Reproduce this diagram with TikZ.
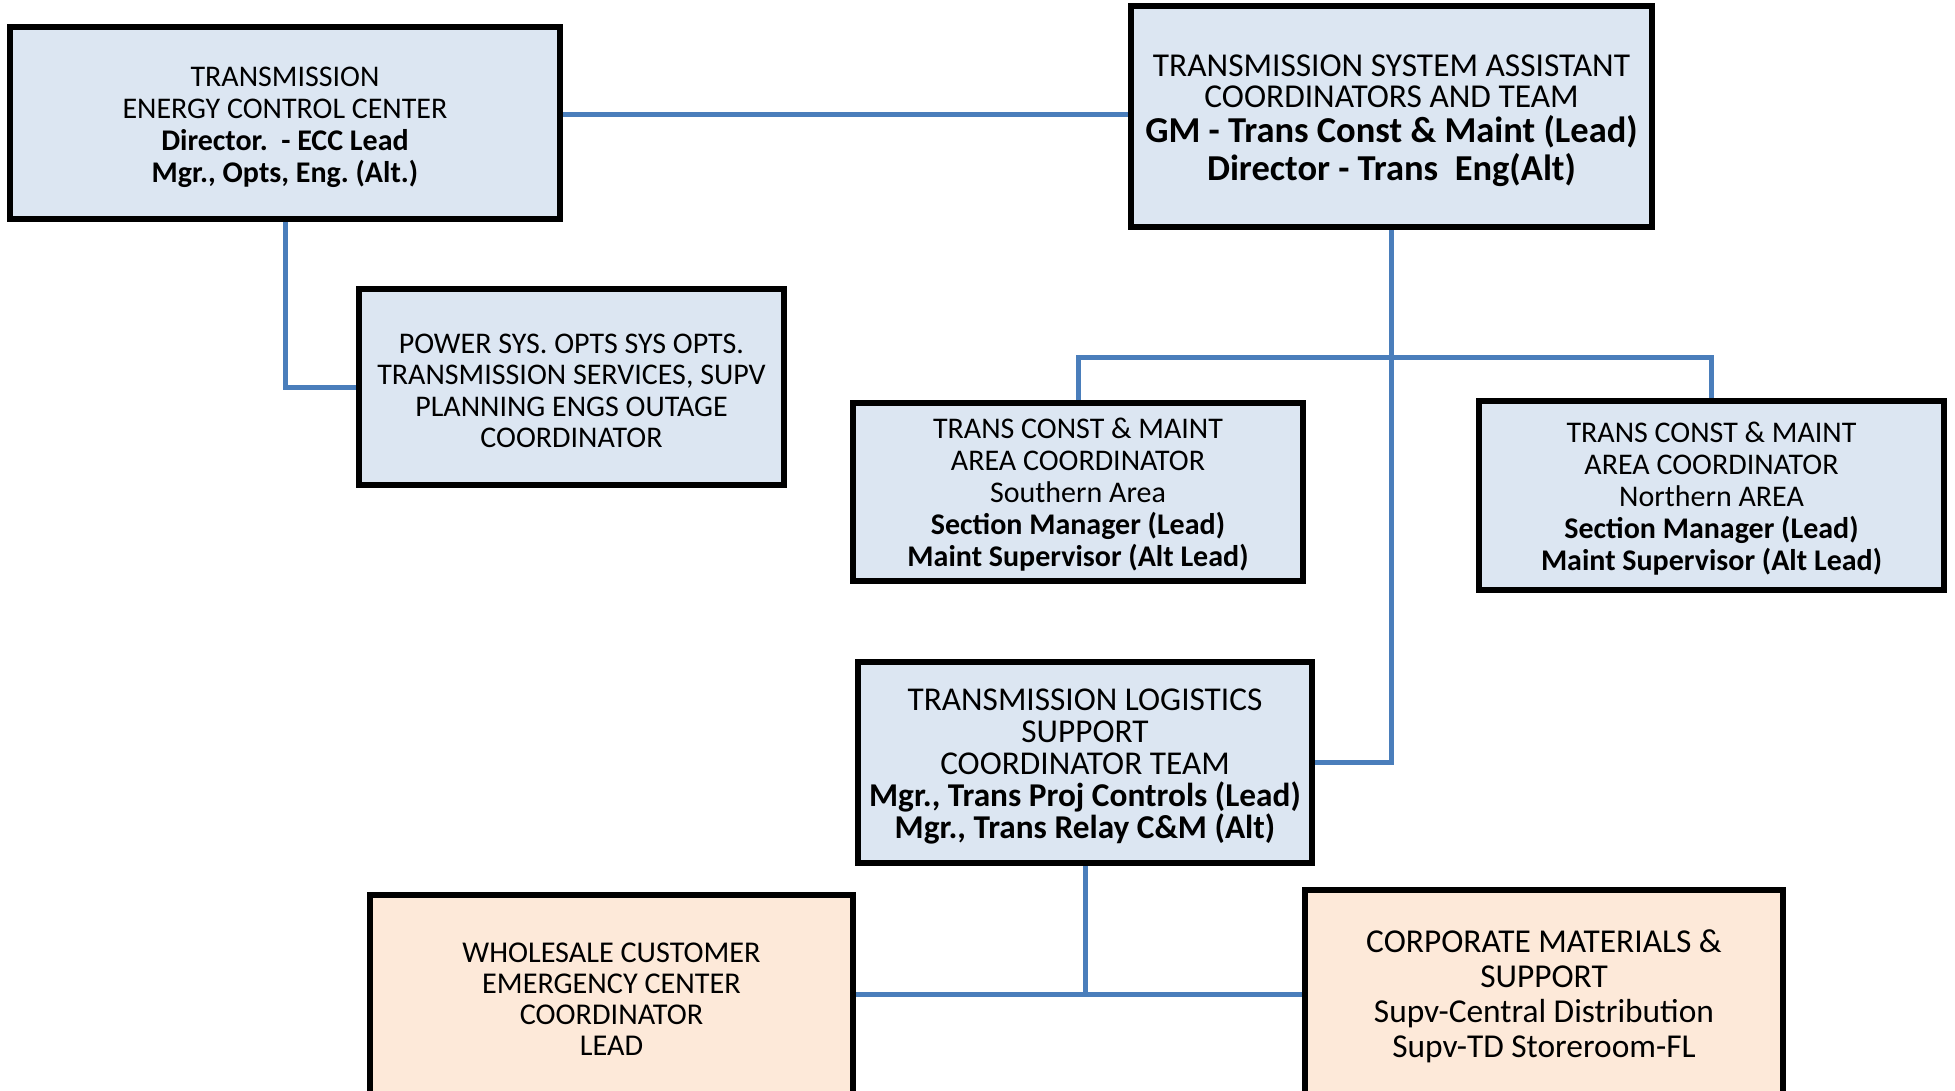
\documentclass[tikz,border=0pt]{standalone}
\usepackage{fontspec}
\setmainfont{Carlito}
\frenchspacing
\usetikzlibrary{backgrounds}
\definecolor{boxblue}{HTML}{DCE6F2}
\definecolor{boxpeach}{HTML}{FDE9D9}
\definecolor{linkblue}{HTML}{4A7EBB}
\begin{document}
\begin{tikzpicture}[x=1pt,y=-1pt,
  unit/.style={draw=black, line width=6pt, rectangle, inner sep=0pt, outer sep=0pt},
  bluebox/.style={unit, fill=boxblue},
  peachbox/.style={unit, fill=boxpeach},
  boxtext/.style={align=center, inner sep=0pt, yshift=-4pt},
  link/.style={draw=linkblue, line width=5pt}]
\clip (0,0) rectangle (1955,1091);

% level markers for the connector runs
\coordinate (topbus) at (0,115);
\coordinate (areabus) at (0,358);
\coordinate (supportbus) at (0,994);

% boxes
\node[bluebox, minimum width=550pt, minimum height=192pt] (ecc) at (285,123) {};
\node[bluebox, minimum width=521pt, minimum height=221pt] (tsa) at (1391.5,116.5) {};
\node[bluebox, minimum width=425pt, minimum height=196pt] (ops) at (571.5,387) {};
\node[bluebox, minimum width=450pt, minimum height=178pt] (south) at (1078,492) {};
\node[bluebox, minimum width=465pt, minimum height=189pt] (north) at (1711.5,495.5) {};
\node[bluebox, minimum width=454pt, minimum height=201pt] (logi) at (1085,762.5) {};
\node[peachbox, minimum width=483pt, minimum height=200pt] (whole) at (611.5,995) {};
\node[peachbox, minimum width=478pt, minimum height=205pt] (corp) at (1544,992.5) {};

% box texts
\node[boxtext, font=\fontsize{30}{32}\selectfont] (ecc-txt) at (ecc.center)
  {TRANSMISSION\\ENERGY CONTROL CENTER\\
   \textbf{Director.\ \ - ECC Lead}\\\textbf{Mgr., Opts, Eng. (Alt.)}};

\node[boxtext, font=\fontsize{33.4}{31}\selectfont] (tsa-txt) at (tsa.center)
  {TRANSMISSION SYSTEM ASSISTANT\\COORDINATORS AND TEAM\\[4pt]
   {\fontsize{36.5}{31}\selectfont\bfseries GM - Trans Const \& Maint (Lead)}\\[4pt]
   {\fontsize{36.5}{31}\selectfont\bfseries Director - Trans\ \ Eng(Alt)}};

\node[boxtext, font=\fontsize{30}{31.5}\selectfont] (ops-txt) at (ops.center)
  {POWER SYS. OPTS SYS OPTS.\\TRANSMISSION SERVICES, SUPV\\
   PLANNING ENGS OUTAGE\\COORDINATOR};

\node[boxtext, yshift=1pt, font=\fontsize{30}{32}\selectfont] (south-txt) at (south.center)
  {TRANS CONST \& MAINT\\AREA COORDINATOR\\Southern Area\\
   \textbf{Section Manager (Lead)}\\\textbf{Maint Supervisor (Alt Lead)}};

\node[boxtext, yshift=1pt, font=\fontsize{30}{32}\selectfont] (north-txt) at (north.center)
  {TRANS CONST \& MAINT\\AREA COORDINATOR\\Northern AREA\\
   \textbf{Section Manager (Lead)}\\\textbf{Maint Supervisor (Alt Lead)}};

\node[boxtext, font=\fontsize{33.3}{32}\selectfont] (logi-txt) at (logi.center)
  {TRANSMISSION LOGISTICS\\SUPPORT\\COORDINATOR TEAM\\
   \textbf{Mgr., Trans Proj Controls (Lead)}\\\textbf{Mgr., Trans Relay C\&M (Alt)}};

\node[boxtext, font=\fontsize{30.2}{31}\selectfont] (whole-txt) at (whole.center)
  {WHOLESALE CUSTOMER\\EMERGENCY CENTER\\COORDINATOR\\LEAD};

\node[boxtext, font=\fontsize{33.4}{35}\selectfont] (corp-txt) at (corp.center)
  {CORPORATE MATERIALS \&\\SUPPORT\\Supv-Central Distribution\\Supv-TD Storeroom-FL};

\begin{scope}[on background layer]
  \fill[white] (0,0) rectangle (1955,1091);
  \draw[link] (ecc.east |- topbus) -- (tsa.west |- topbus);
  \draw[link] (ecc.south) |- (ops.west);
  \draw[link] (tsa.south) |- (logi.east);
  \draw[link] (south.north) |- (tsa.south |- areabus) -| (north.north);
  \draw[link] (whole.east |- supportbus) -| (logi.south);
  \draw[link] (corp.west |- supportbus) -| (logi.south);
\end{scope}
\end{tikzpicture}
\end{document}
